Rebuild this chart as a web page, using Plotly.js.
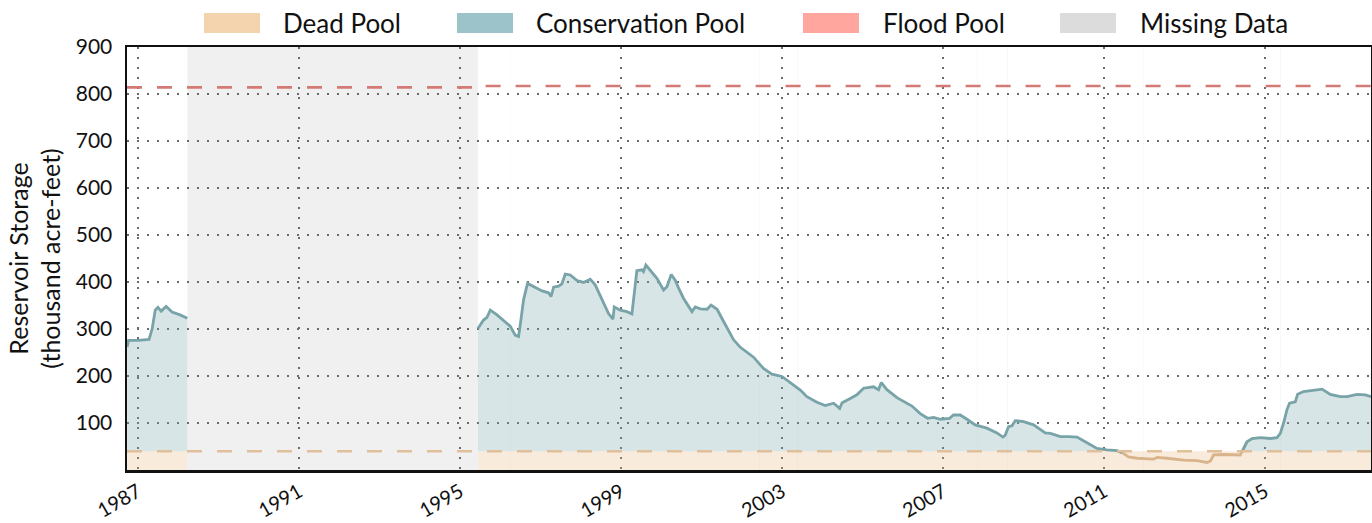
<!DOCTYPE html>
<html>
<head>
<meta charset="utf-8">
<script src="https://cdn.plot.ly/plotly-3.0.1.min.js"></script>
<style>
  html, body { margin: 0; padding: 0; background: #fff; }
  #chart { width: 1372px; height: 523px; }
</style>
</head>
<body>
<div id="chart"></div>
<script>
// ---------------- DATA ----------------
const deadPoolLevel = 40;
const floodDates  = ['1986-09-24', '1995-06-12', '1995-06-12', '2017-08-19'];
const floodLevels = [814, 814, 817, 817];

const seg1Dates = ['1986-09-25','1986-10-08','1987-01-01','1987-04-12','1987-05-10','1987-06-07',
  '1987-07-02','1987-07-31','1987-09-14','1987-11-07','1988-01-19','1988-03-24'];
const seg1Storage = [262, 276, 276, 278, 300, 340, 346, 338, 348, 336, 330, 323];

const seg2Dates = ['1995-06-13','1995-08-03','1995-09-03','1995-10-03','1995-12-03','1996-02-01',
  '1996-04-01','1996-05-16','1996-06-16','1996-07-07','1996-07-31','1996-09-05','1996-10-29',
  '1997-01-15','1997-03-15','1997-04-06','1997-04-30','1997-06-14','1997-07-14','1997-08-13',
  '1997-09-28','1997-11-28','1998-01-27','1998-03-28','1998-05-12','1998-07-12','1998-09-10',
  '1998-10-20','1998-11-01','1998-12-25','1999-02-24','1999-04-10','1999-04-24','1999-05-25',
  '1999-07-09','1999-07-24','1999-08-15','1999-09-23','1999-11-23','2000-01-22','2000-02-22',
  '2000-04-01','2000-05-07','2000-06-07','2000-07-22','2000-10-06','2000-11-05','2000-12-20',
  '2001-02-20','2001-03-28','2001-05-22','2001-07-20','2001-10-19','2001-12-19','2002-04-18',
  '2002-07-17','2002-10-01','2003-01-01','2003-04-01','2003-06-16','2003-08-15','2003-11-14',
  '2004-01-28','2004-04-13','2004-06-07','2004-06-29','2004-09-11','2004-11-10','2005-01-10',
  '2005-04-10','2005-05-26','2005-06-20','2005-08-10','2005-11-09','2006-03-25','2006-06-08',
  '2006-08-14','2006-10-07','2006-12-07','2007-03-01','2007-04-06','2007-06-06','2007-08-06',
  '2007-10-20','2008-02-03','2008-05-04','2008-06-28','2008-07-18','2008-08-17','2008-09-17',
  '2008-10-17','2009-01-01','2009-04-01','2009-07-17','2009-09-01','2009-12-01','2010-02-14',
  '2010-05-01','2010-07-30','2010-10-29','2011-01-27','2011-04-28','2011-06-13','2011-08-11',
  '2011-10-27','2012-03-26','2012-04-26','2012-07-25','2012-12-23','2013-04-23','2013-07-23',
  '2013-08-22','2013-09-21','2013-12-20','2014-03-20','2014-05-21','2014-06-06','2014-07-21',
  '2014-09-05','2014-11-19','2015-02-18','2015-04-19','2015-05-19','2015-06-18','2015-07-18',
  '2015-08-11','2015-10-02','2015-10-23','2015-12-16','2016-03-17','2016-06-01','2016-08-15',
  '2016-11-14','2017-01-14','2017-04-15','2017-06-29','2017-08-19'];
const seg2Storage = [301, 319, 325, 340, 330, 319,
  306, 287, 284, 319, 362, 397, 390,
  381, 377, 369, 389, 391, 396, 417,
  415, 403, 399, 406, 394, 362, 333,
  321, 347, 340, 337, 332, 362, 424,
  426, 422, 436, 426, 408, 383, 390,
  416, 404, 387, 365, 337, 347, 343,
  342, 351, 342, 316, 277, 261, 240,
  216, 204, 199, 184, 170, 156, 144,
  137, 142, 131, 143, 152, 160, 174,
  177, 171, 186, 171, 154, 136, 120,
  110, 112, 108, 110, 117, 117, 108,
  96, 89, 79, 70, 74, 92, 94,
  105, 103, 96, 79, 78, 71, 71,
  70, 58, 46, 43, 41, 37, 28,
  25, 23, 27, 25, 21, 20, 16,
  19, 32, 33, 33, 32, 39, 60,
  67, 69, 67, 69, 78, 100, 128,
  142, 145, 161, 167, 170, 172, 161,
  156, 156, 161, 160, 156];

const missingStarts = ['1988-03-25', '1996-03-30', '2002-06-06', '2003-05-17', '2007-11-05', '2008-08-04', '2011-12-20', '2015-05-17'];
const missingEnds   = ['1995-06-12', '1996-04-02', '2002-06-10', '2003-05-21', '2007-11-09', '2008-08-08', '2011-12-24', '2015-05-21'];

const xTickYears = [1987, 1991, 1995, 1999, 2003, 2007, 2011, 2015];
const yTickValues = [100, 200, 300, 400, 500, 600, 700, 800, 900];

const legendLabels = ['Dead Pool', 'Conservation Pool', 'Flood Pool', 'Missing Data'];
const legendColors = ['#f3d4ae', '#9cc3c9', '#ffa69e', '#dcdcdc'];

// ---------------- STYLE ----------------
const FONT = 'Lato, "Open Sans", sans-serif';
const tealLine = '#78a3a8';
const tanLine = '#d9b48b';
const tealFill = 'rgba(122,168,175,0.30)';
const tanFill = 'rgba(232,178,118,0.26)';

const traces = [];
function addSegment(dates, vals) {
  traces.push({x: dates, y: dates.map(() => deadPoolLevel), type: 'scatter', mode: 'lines',
    line: {width: 0, color: 'rgba(0,0,0,0)'}, fill: 'tozeroy', fillcolor: tanFill,
    hoverinfo: 'skip', showlegend: false});
  traces.push({x: dates, y: dates.map(() => deadPoolLevel), type: 'scatter', mode: 'lines',
    line: {width: 0, color: 'rgba(0,0,0,0)'}, hoverinfo: 'skip', showlegend: false});
  traces.push({x: dates, y: vals.map(v => Math.max(v, deadPoolLevel)), type: 'scatter', mode: 'lines',
    line: {width: 0, color: 'rgba(0,0,0,0)'}, fill: 'tonexty', fillcolor: tealFill,
    hoverinfo: 'skip', showlegend: false});
}
function addLines(dates, vals) {
  const isBelow = i => vals[i] !== undefined && vals[i] < deadPoolLevel;
  const isAbove = i => vals[i] !== undefined && vals[i] >= deadPoolLevel;
  const below = vals.map((v, i) => (isBelow(i) || isBelow(i-1) || isBelow(i+1)) ? v : null);
  const above = vals.map((v, i) => (isAbove(i) || isAbove(i-1) || isAbove(i+1)) ? v : null);
  traces.push({x: dates, y: below, type: 'scatter', mode: 'lines',
    line: {width: 2.8, color: tanLine}, connectgaps: false, showlegend: false});
  traces.push({x: dates, y: above, type: 'scatter', mode: 'lines',
    line: {width: 2.8, color: tealLine}, connectgaps: false, showlegend: false});
}
addSegment(seg1Dates, seg1Storage);
addSegment(seg2Dates, seg2Storage);
addLines(seg1Dates, seg1Storage);
addLines(seg2Dates, seg2Storage);

traces.push({x: [floodDates[0], floodDates[floodDates.length-1]], y: [deadPoolLevel, deadPoolLevel],
  type: 'scatter', mode: 'lines', line: {width: 2.6, color: '#e0c09a', dash: '15px,15px'}, showlegend: false});
traces.push({x: floodDates, y: floodLevels, type: 'scatter', mode: 'lines',
  line: {width: 2.6, color: '#d27a74', dash: '15px,15px'}, showlegend: false});

// ---------------- LAYOUT ----------------
const L = 127, R = 1371, T = 47, B = 470;
const px2x = px => (px - L) / (R - L);
const px2y = py => (B - py) / (B - T);

const shapes = missingStarts.map((s, i) => ({
  type: 'rect', xref: 'x', yref: 'paper', x0: s, x1: missingEnds[i], y0: 0, y1: 1,
  fillcolor: i === 0 ? '#f0f0f0' : '#f2f2f2', line: {width: 0}, layer: 'below'
}));

const swatchLeft = [204, 457, 803, 1060];
const textLeft = [283, 536, 883, 1140];
const annotations = [];
legendLabels.forEach((lab, i) => {
  shapes.push({type: 'rect', xref: 'paper', yref: 'paper',
    x0: px2x(swatchLeft[i]), x1: px2x(swatchLeft[i] + 56), y0: px2y(33), y1: px2y(13),
    fillcolor: legendColors[i], line: {width: 0}, layer: 'above'});
  annotations.push({xref: 'paper', yref: 'paper', x: px2x(textLeft[i] - 2), y: px2y(23),
    xanchor: 'left', yanchor: 'middle', showarrow: false, text: lab,
    font: {family: FONT, size: 26, color: '#111'}});
});

const layout = {
  width: 1372, height: 523,
  margin: {l: L, r: 1372 - R, t: T, b: 523 - B},
  paper_bgcolor: '#ffffff', plot_bgcolor: '#ffffff',
  showlegend: false,
  font: {family: FONT, size: 20, color: '#111'},
  xaxis: {
    type: 'date', range: ['1986-09-24', '2017-08-19'],
    tickvals: xTickYears.map(y => y + '-01-01'), ticktext: xTickYears.map(String),
    tickangle: -30, tickfont: {family: FONT, size: 20, color: '#111'},
    ticks: '', showgrid: true, gridcolor: '#6a6a6a', gridwidth: 1.3, griddash: '2px,8px',
    showline: true, linecolor: '#111', linewidth: 2.5, mirror: true, zeroline: false,
    ticklabelstandoff: 0
  },
  yaxis: {
    range: [0, 900], tickvals: yTickValues, ticktext: yTickValues.map(String),
    tickfont: {family: FONT, size: 21, color: '#111'},
    ticks: '', showgrid: true, gridcolor: '#6a6a6a', gridwidth: 1.3, griddash: '2px,8px',
    showline: true, linecolor: '#111', linewidth: 2.5, mirror: true, zeroline: false,
    ticklabelstandoff: 8,
    title: {text: 'Reservoir Storage<br>(thousand acre-feet)', font: {family: FONT, size: 25, color: '#111'}, standoff: 8}
  },
  shapes: shapes,
  annotations: annotations
};

Plotly.newPlot('chart', traces, layout, {staticPlot: true, displayModeBar: false});
</script>
</body>
</html>
